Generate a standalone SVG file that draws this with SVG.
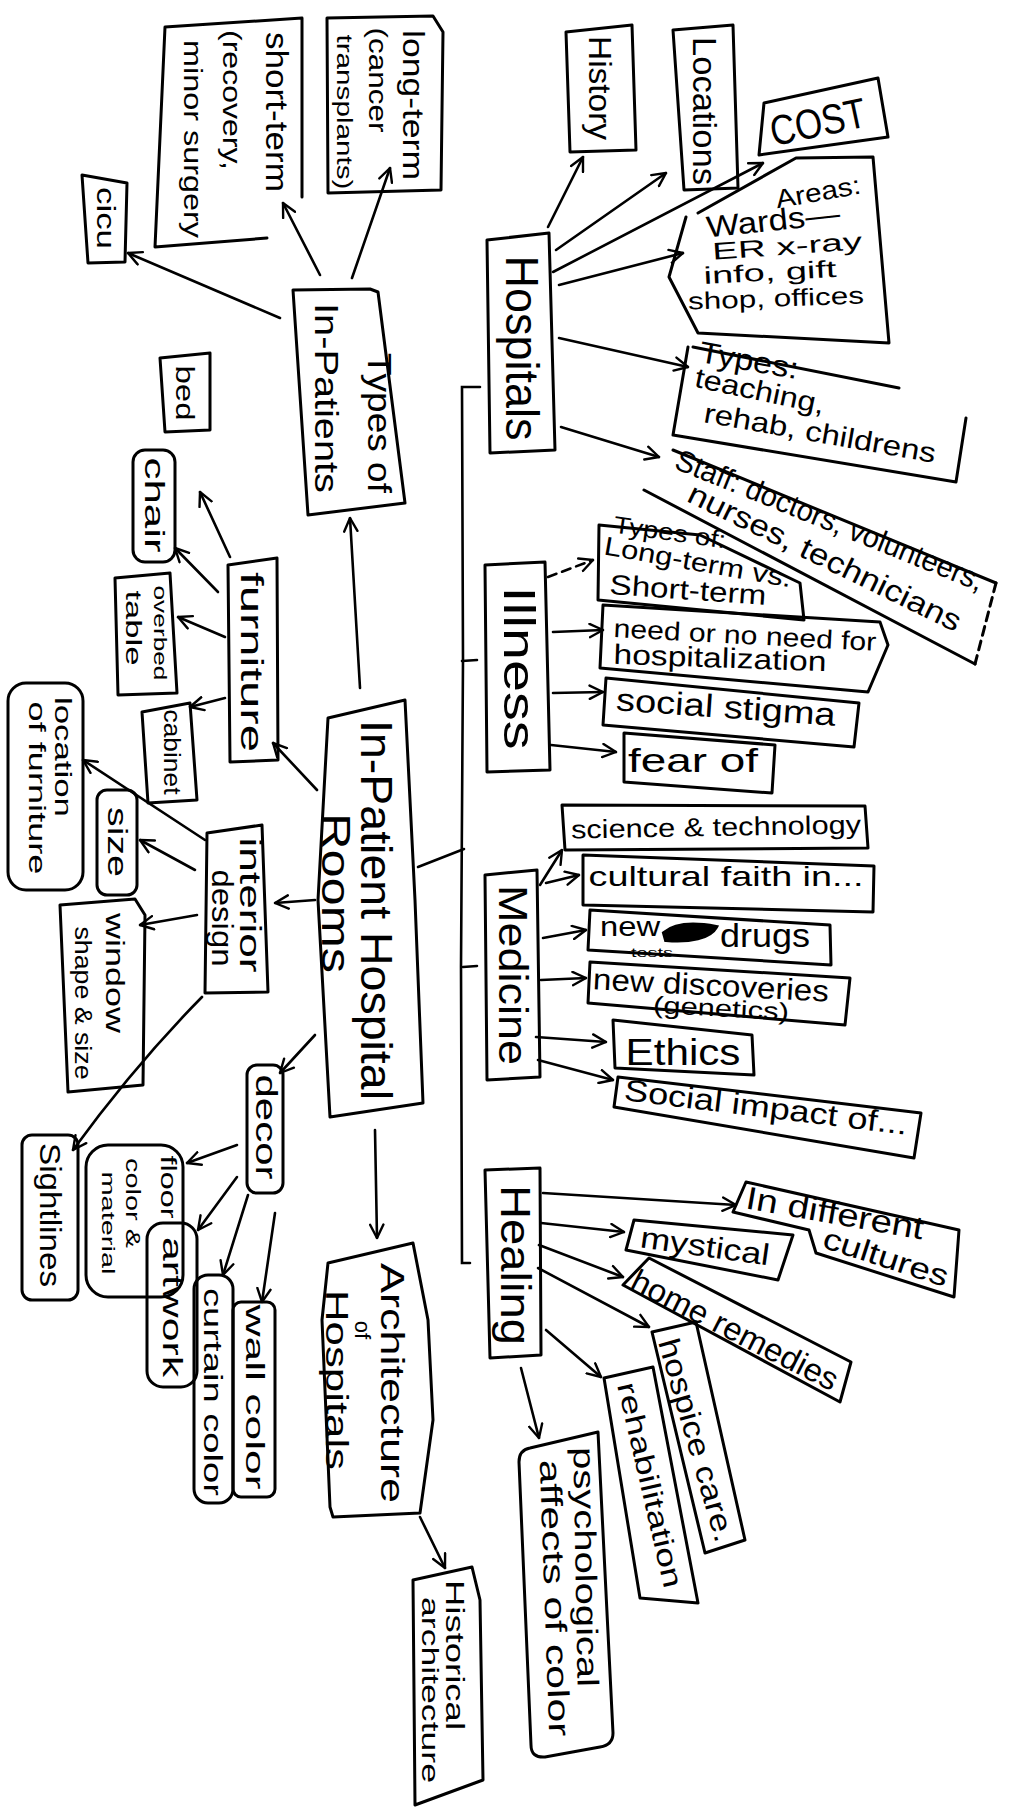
<svg xmlns="http://www.w3.org/2000/svg" width="1013" height="1817" viewBox="0 0 1013 1817">
<style>
.b{fill:none;stroke:#000;stroke-width:3;stroke-linejoin:round;stroke-linecap:round}
.c{fill:none;stroke:#000;stroke-width:2.6;stroke-linecap:round;marker-end:url(#ah)}
.d{stroke-dasharray:9 6}
.s{fill:none;stroke:#000;stroke-width:2.6;stroke-linecap:round}
text{font-family:"Liberation Sans","DejaVu Sans",sans-serif;fill:#000;text-anchor:middle;dominant-baseline:central}
</style>
<defs>
<marker id="ah" viewBox="0 0 12 12" refX="11" refY="6" markerWidth="16" markerHeight="16" markerUnits="userSpaceOnUse" orient="auto">
<path d="M1,1 L11,6 L1,11" fill="none" stroke="#000" stroke-width="1.8" stroke-linecap="round" stroke-linejoin="round"/>
</marker>
</defs>
<rect width="1013" height="1817" fill="#fff"/>

<g id="connectors">
<path class="s" d="M480,387 L462,387 L463,660 L461,967 L462,1263 L470,1263"/>
<path class="s" d="M462,661 L477,660 M463,967 L477,966"/>
<path class="s" d="M418,867 L464,849"/>
<path class="c" d="M360,688 L350,518"/>
<path class="c" d="M280,318 L128,253"/>
<path class="c" d="M320,275 L283,203"/>
<path class="c" d="M352,278 L390,168"/>
<path class="c" d="M317,790 L273,743"/>
<path class="c" d="M230,557 L200,492"/>
<path class="c" d="M218,592 L175,548"/>
<path class="c" d="M225,637 L178,617"/>
<path class="c" d="M225,698 L190,707"/>
<path class="c" d="M315,900 L275,903"/>
<path class="c" d="M205,840 L83,760"/>
<path class="c" d="M195,870 L140,840"/>
<path class="c" d="M197,915 L140,925"/>
<path class="c" d="M202,997 Q135,1065 73,1150"/>
<path class="c" d="M315,1035 L280,1073"/>
<path class="c" d="M237,1145 L187,1163"/>
<path class="c" d="M237,1177 L198,1230"/>
<path class="c" d="M248,1195 L223,1275"/>
<path class="c" d="M275,1213 L262,1302"/>
<path class="c" d="M375,1130 L377,1238"/>
<path class="c" d="M420,1517 L445,1568"/>
<path class="c" d="M548,227 L583,157"/>
<path class="c" d="M556,250 L666,173"/>
<path class="c" d="M553,272 L763,163"/>
<path class="c" d="M559,285 L683,253"/>
<path class="c" d="M559,338 L688,367"/>
<path class="c" d="M561,427 L659,457"/>
<path class="c d" d="M548,577 L593,560"/>
<path class="c" d="M553,632 L603,630"/>
<path class="c" d="M553,693 L603,692"/>
<path class="c" d="M551,745 L616,752"/>
<path class="c" d="M540,885 L562,850"/>
<path class="c" d="M546,883 L579,875"/>
<path class="c" d="M543,938 L586,930"/>
<path class="c" d="M541,980 L586,978"/>
<path class="c" d="M536,1037 L606,1042"/>
<path class="c" d="M538,1060 L613,1080"/>
<path class="c" d="M543,1193 L736,1205"/>
<path class="c" d="M541,1223 L624,1232"/>
<path class="c" d="M539,1245 L623,1277"/>
<path class="c" d="M538,1268 L649,1327"/>
<path class="c" d="M546,1330 L601,1377"/>
<path class="c" d="M521,1368 L539,1438"/>
</g>

<g id="n-central">
<path class="b" d="M328,718 L405,700 L415,900 L423,1103 L330,1117 L318,900 Z"/>
<text transform="translate(376,910) rotate(90)" font-size="44" textLength="380" lengthAdjust="spacingAndGlyphs">In-Patient Hospital</text>
<text transform="translate(336,893) rotate(90)" font-size="40" textLength="160" lengthAdjust="spacingAndGlyphs">Rooms</text>
</g>

<g id="n-types-inpatients">
<path class="b" d="M293,290 L370,289 L378,292 L405,503 L308,515 Z"/>
<text transform="translate(380,423) rotate(90)" font-size="34" textLength="140" lengthAdjust="spacingAndGlyphs">Types of</text>
<text transform="translate(327,398) rotate(90)" font-size="34" textLength="190" lengthAdjust="spacingAndGlyphs">In-Patients</text>
</g>
<g id="n-longterm">
<path class="b" d="M327,18 L433,16 L443,32 L441,190 L328,193 Z"/>
<text transform="translate(413,105) rotate(90)" font-size="30" textLength="150" lengthAdjust="spacingAndGlyphs">long-term</text>
<text transform="translate(378,80) rotate(90)" font-size="26" textLength="105" lengthAdjust="spacingAndGlyphs">(cancer</text>
<text transform="translate(344,112) rotate(90)" font-size="22" textLength="155" lengthAdjust="spacingAndGlyphs">transplants)</text>
</g>
<g id="n-shortterm">
<path class="b" d="M165,27 L302,18 L302,197 M165,27 L155,247 L267,238"/>
<text transform="translate(277,112) rotate(90)" font-size="32" textLength="160" lengthAdjust="spacingAndGlyphs">short-term</text>
<text transform="translate(232,100) rotate(90)" font-size="26" textLength="140" lengthAdjust="spacingAndGlyphs">(recovery,</text>
<text transform="translate(193,139) rotate(90)" font-size="26" textLength="198" lengthAdjust="spacingAndGlyphs">minor surgery</text>
</g>
<g id="n-cicu">
<path class="b" d="M82,175 L127,183 L125,262 L88,263 Z"/>
<text transform="translate(106,218) rotate(90)" font-size="26" textLength="62" lengthAdjust="spacingAndGlyphs">cicu</text>
</g>
<g id="n-bed">
<path class="b" d="M160,358 L210,353 L210,430 L165,432 Z"/>
<text transform="translate(185,393) rotate(90)" font-size="26" textLength="55" lengthAdjust="spacingAndGlyphs">bed</text>
</g>

<g id="n-furniture">
<path class="b" d="M228,565 L277,558 L278,760 L230,762 Z"/>
<text transform="translate(252,662) rotate(90)" font-size="32" textLength="180" lengthAdjust="spacingAndGlyphs">furniture</text>
</g>
<g id="n-chair">
<rect class="b" x="133" y="450" width="42" height="112" rx="12"/>
<text transform="translate(154,505) rotate(90)" font-size="28" textLength="95" lengthAdjust="spacingAndGlyphs">chair</text>
</g>
<g id="n-overbed">
<path class="b" d="M115,578 L170,573 L177,693 L118,695 Z"/>
<text transform="translate(160,633) rotate(90)" font-size="18" textLength="95" lengthAdjust="spacingAndGlyphs">overbed</text>
<text transform="translate(133,628) rotate(90)" font-size="22" textLength="75" lengthAdjust="spacingAndGlyphs">table</text>
</g>
<g id="n-cabinet">
<path class="b" d="M142,712 L190,703 L197,800 L148,803 Z"/>
<text transform="translate(172,752) rotate(90)" font-size="24" textLength="85" lengthAdjust="spacingAndGlyphs">cabinet</text>
</g>

<g id="n-interior">
<path class="b" d="M207,833 L262,825 L268,992 L205,993 Z"/>
<text transform="translate(250,905) rotate(90)" font-size="30" textLength="135" lengthAdjust="spacingAndGlyphs">interior</text>
<text transform="translate(222,918) rotate(90)" font-size="30" textLength="97" lengthAdjust="spacingAndGlyphs">design</text>
</g>
<g id="n-location">
<rect class="b" x="8" y="683" width="75" height="207" rx="18"/>
<text transform="translate(63,757) rotate(90)" font-size="24" textLength="120" lengthAdjust="spacingAndGlyphs">location</text>
<text transform="translate(37,788) rotate(90)" font-size="24" textLength="173" lengthAdjust="spacingAndGlyphs">of furniture</text>
</g>
<g id="n-size">
<rect class="b" x="97" y="790" width="40" height="105" rx="10"/>
<text transform="translate(117,842) rotate(90)" font-size="28" textLength="70" lengthAdjust="spacingAndGlyphs">size</text>
</g>
<g id="n-window">
<path class="b" d="M60,905 L135,899 L145,915 L143,1085 L68,1092 Z"/>
<text transform="translate(115,973) rotate(90)" font-size="26" textLength="120" lengthAdjust="spacingAndGlyphs">window</text>
<text transform="translate(83,1003) rotate(90)" font-size="24" textLength="153" lengthAdjust="spacingAndGlyphs">shape &amp; size</text>
</g>
<g id="n-sightlines">
<rect class="b" x="22" y="1135" width="56" height="165" rx="10"/>
<text transform="translate(50,1215) rotate(90)" font-size="30" textLength="144" lengthAdjust="spacingAndGlyphs">Sightlines</text>
</g>

<g id="n-decor">
<rect class="b" x="247" y="1065" width="36" height="128" rx="10"/>
<text transform="translate(266,1127) rotate(90)" font-size="30" textLength="105" lengthAdjust="spacingAndGlyphs">decor</text>
</g>
<g id="n-floor">
<rect class="b" x="86" y="1145" width="97" height="152" rx="22"/>
<text transform="translate(168,1187) rotate(90)" font-size="22" textLength="63" lengthAdjust="spacingAndGlyphs">floor</text>
<text transform="translate(133,1203) rotate(90)" font-size="20" textLength="90" lengthAdjust="spacingAndGlyphs">color &amp;</text>
<text transform="translate(108,1223) rotate(90)" font-size="18" textLength="103" lengthAdjust="spacingAndGlyphs">material</text>
</g>
<g id="n-artwork">
<rect class="b" x="147" y="1223" width="50" height="164" rx="16"/>
<text transform="translate(172,1307) rotate(90)" font-size="28" textLength="140" lengthAdjust="spacingAndGlyphs">artwork</text>
</g>
<g id="n-curtain">
<rect class="b" x="194" y="1275" width="39" height="228" rx="14"/>
<text transform="translate(213,1392) rotate(90)" font-size="26" textLength="208" lengthAdjust="spacingAndGlyphs">curtain color</text>
</g>
<g id="n-wall">
<rect class="b" x="233" y="1302" width="42" height="195" rx="8"/>
<text transform="translate(255,1397) rotate(90)" font-size="26" textLength="185" lengthAdjust="spacingAndGlyphs">wall color</text>
</g>

<g id="n-architecture">
<path class="b" d="M328,1263 L413,1243 L428,1320 L433,1420 L420,1513 L333,1517 L330,1507 L322,1320 Z"/>
<text transform="translate(393,1383) rotate(90)" font-size="34" textLength="240" lengthAdjust="spacingAndGlyphs">Architecture</text>
<text transform="translate(362,1330) rotate(90)" font-size="22">of</text>
<text transform="translate(337,1380) rotate(90)" font-size="32" textLength="180" lengthAdjust="spacingAndGlyphs">Hospitals</text>
</g>
<g id="n-historical">
<path class="b" d="M413,1580 L472,1567 L480,1600 L483,1780 L415,1805 Z"/>
<text transform="translate(455,1655) rotate(90)" font-size="26" textLength="150" lengthAdjust="spacingAndGlyphs">Historical</text>
<text transform="translate(430,1690) rotate(90)" font-size="24" textLength="186" lengthAdjust="spacingAndGlyphs">architecture</text>
</g>

<g id="n-hospitals">
<path class="b" d="M487,240 L549,233 L555,450 L490,453 Z"/>
<text transform="translate(522,348) rotate(90)" font-size="46" textLength="185" lengthAdjust="spacingAndGlyphs">Hospitals</text>
</g>
<g id="n-history">
<path class="b" d="M566,32 L632,25 L636,150 L570,152 Z"/>
<text transform="translate(600,88) rotate(90)" font-size="32" textLength="104" lengthAdjust="spacingAndGlyphs">History</text>
</g>
<g id="n-locations">
<path class="b" d="M673,30 L733,25 L738,188 L684,190 Z"/>
<text transform="translate(705,111) rotate(90)" font-size="34" textLength="148" lengthAdjust="spacingAndGlyphs">Locations</text>
</g>
<g id="n-cost">
<path class="b" d="M764,103 L878,78 L888,137 L759,155 Z"/>
<text transform="translate(818,122) rotate(-12)" font-size="42" textLength="97" lengthAdjust="spacingAndGlyphs">COST</text>
</g>
<g id="n-areas">
<path class="b" d="M698,213 L796,158 L873,157 L889,343 L698,333 L669,277 L686,217"/>
<text transform="translate(818,192) rotate(-10)" font-size="26" textLength="86" lengthAdjust="spacingAndGlyphs">Areas:</text>
<text transform="translate(773,220) rotate(-6)" font-size="30" textLength="134" lengthAdjust="spacingAndGlyphs">Wards—</text>
<text transform="translate(787,246) rotate(-4)" font-size="24" textLength="150" lengthAdjust="spacingAndGlyphs">ER x-ray</text>
<text transform="translate(770,272) rotate(-3)" font-size="24" textLength="133" lengthAdjust="spacingAndGlyphs">info, gift</text>
<text transform="translate(776,298) rotate(-2)" font-size="24" textLength="176" lengthAdjust="spacingAndGlyphs">shop, offices</text>
</g>
<g id="n-types-hosp">
<path class="b" d="M693,347 L899,388 M966,418 L956,482 L673,435 L688,347"/>
<text transform="translate(749,360) rotate(10)" font-size="30" textLength="100" lengthAdjust="spacingAndGlyphs">Types:</text>
<text transform="translate(760,391) rotate(12)" font-size="28" textLength="132" lengthAdjust="spacingAndGlyphs">teaching,</text>
<text transform="translate(820,433) rotate(10)" font-size="28" textLength="235" lengthAdjust="spacingAndGlyphs">rehab, childrens</text>
</g>
<g id="n-staff">
<path class="b" d="M673,450 L996,583 M975,664 L644,490"/>
<path class="b d" d="M996,583 L975,664"/>
<text transform="translate(830,520) rotate(22)" font-size="30" textLength="330" lengthAdjust="spacingAndGlyphs">Staff: doctors, volunteers,</text>
<text transform="translate(825,557) rotate(26)" font-size="30" textLength="300" lengthAdjust="spacingAndGlyphs">nurses, technicians</text>
</g>

<g id="n-illness">
<path class="b" d="M485,565 L545,562 L550,770 L487,772 Z"/>
<text transform="translate(519,668) rotate(90)" font-size="44" textLength="163" lengthAdjust="spacingAndGlyphs">Illness</text>
</g>
<g id="n-typesof">
<path class="b" d="M599,525 L700,535 L800,583 L804,620 L598,600 Z"/>
<text transform="translate(670,532) rotate(8)" font-size="24" textLength="113" lengthAdjust="spacingAndGlyphs">Types of:</text>
<text transform="translate(698,562) rotate(10)" font-size="26" textLength="190" lengthAdjust="spacingAndGlyphs">Long-term vs.</text>
<text transform="translate(688,590) rotate(4)" font-size="28" textLength="157" lengthAdjust="spacingAndGlyphs">Short-term</text>
</g>
<g id="n-need">
<path class="b" d="M603,605 L880,622 L888,645 L868,692 L600,668 Z"/>
<text transform="translate(745,635) rotate(3)" font-size="26" textLength="263" lengthAdjust="spacingAndGlyphs">need or no need for</text>
<text transform="translate(720,658) rotate(2)" font-size="28" textLength="213" lengthAdjust="spacingAndGlyphs">hospitalization</text>
</g>
<g id="n-stigma">
<path class="b" d="M606,678 L859,703 L854,747 L603,725 Z"/>
<text transform="translate(726,707) rotate(4)" font-size="32" textLength="220" lengthAdjust="spacingAndGlyphs">social stigma</text>
</g>
<g id="n-fear">
<path class="b" d="M624,733 L775,745 L772,793 L624,782 Z"/>
<text transform="translate(693,760)" font-size="34" textLength="130" lengthAdjust="spacingAndGlyphs">fear of</text>
</g>

<g id="n-medicine">
<path class="b" d="M485,875 L537,870 L540,1077 L487,1080 Z"/>
<text transform="translate(513,975) rotate(90)" font-size="40" textLength="180" lengthAdjust="spacingAndGlyphs">Medicine</text>
</g>
<g id="n-science">
<path class="b" d="M562,805 L865,806 L868,848 L565,850 Z"/>
<text transform="translate(716,827) rotate(-1)" font-size="26" textLength="290" lengthAdjust="spacingAndGlyphs">science &amp; technology</text>
</g>
<g id="n-cultural">
<path class="b" d="M583,855 L874,866 L873,912 L583,905 Z"/>
<text transform="translate(726,876)" font-size="28" textLength="275" lengthAdjust="spacingAndGlyphs">cultural faith in...</text>
</g>
<g id="n-drugs">
<path class="b" d="M590,910 L830,925 L831,965 L588,950 Z"/>
<text transform="translate(630,926)" font-size="28" textLength="60" lengthAdjust="spacingAndGlyphs">new</text>
<text transform="translate(652,953)" font-size="12" textLength="42" lengthAdjust="spacingAndGlyphs">tests</text>
<path d="M664,933 C677,922 700,924 716,927 C710,938 690,942 666,940 Z" fill="#000" stroke="#000" stroke-width="4"/>
<text transform="translate(765,935)" font-size="34" textLength="90" lengthAdjust="spacingAndGlyphs">drugs</text>
</g>
<g id="n-discoveries">
<path class="b" d="M590,962 L850,978 L845,1025 L588,1003 Z"/>
<text transform="translate(711,985) rotate(3)" font-size="30" textLength="236" lengthAdjust="spacingAndGlyphs">new discoveries</text>
<text transform="translate(721,1008) rotate(3)" font-size="24" textLength="136" lengthAdjust="spacingAndGlyphs">(genetics)</text>
</g>
<g id="n-ethics">
<path class="b" d="M613,1020 L752,1035 L754,1075 L615,1068 Z"/>
<text transform="translate(683,1052)" font-size="36" textLength="115" lengthAdjust="spacingAndGlyphs">Ethics</text>
</g>
<g id="n-social">
<path class="b" d="M618,1077 L921,1113 L914,1158 L614,1107 Z"/>
<text transform="translate(766,1107) rotate(7)" font-size="30" textLength="285" lengthAdjust="spacingAndGlyphs">Social impact of...</text>
</g>

<g id="n-healing">
<path class="b" d="M485,1170 L540,1168 L541,1355 L490,1358 Z"/>
<text transform="translate(515,1265) rotate(90)" font-size="42" textLength="160" lengthAdjust="spacingAndGlyphs">Healing</text>
</g>
<g id="n-cultures">
<path class="b" d="M746,1182 L959,1230 L954,1297 L816,1253 L809,1230 L733,1212 Z"/>
<text transform="translate(835,1213) rotate(10)" font-size="32" textLength="180" lengthAdjust="spacingAndGlyphs">In different</text>
<text transform="translate(886,1257) rotate(18)" font-size="30" textLength="130" lengthAdjust="spacingAndGlyphs">cultures</text>
</g>
<g id="n-mystical">
<path class="b" d="M634,1220 L793,1235 L778,1280 L626,1250 Z"/>
<text transform="translate(705,1246) rotate(8)" font-size="30" textLength="130" lengthAdjust="spacingAndGlyphs">mystical</text>
</g>
<g id="n-home">
<path class="b" d="M649,1258 L851,1362 L840,1402 L623,1285 Z"/>
<text transform="translate(735,1330) rotate(27)" font-size="32" textLength="228" lengthAdjust="spacingAndGlyphs">home remedies</text>
</g>
<g id="n-hospice">
<path class="b" d="M652,1332 L696,1322 L745,1540 L705,1553 Z"/>
<text transform="translate(697,1440) rotate(74)" font-size="30" textLength="210" lengthAdjust="spacingAndGlyphs">hospice care.</text>
</g>
<g id="n-rehab">
<path class="b" d="M604,1378 L653,1367 L698,1603 L640,1598 Z"/>
<text transform="translate(650,1485) rotate(77)" font-size="28" textLength="210" lengthAdjust="spacingAndGlyphs">rehabilitation</text>
</g>
<g id="n-psych">
<path class="b" d="M530,1448 L598,1432 L613,1733 Q613,1745 600,1747 L545,1757 Q531,1758 531,1745 L519,1462 Q519,1450 530,1448 Z"/>
<text transform="translate(586,1567) rotate(89)" font-size="30" textLength="240" lengthAdjust="spacingAndGlyphs">psychological</text>
<text transform="translate(555,1598) rotate(88)" font-size="30" textLength="277" lengthAdjust="spacingAndGlyphs">affects of color</text>
</g>
</svg>
